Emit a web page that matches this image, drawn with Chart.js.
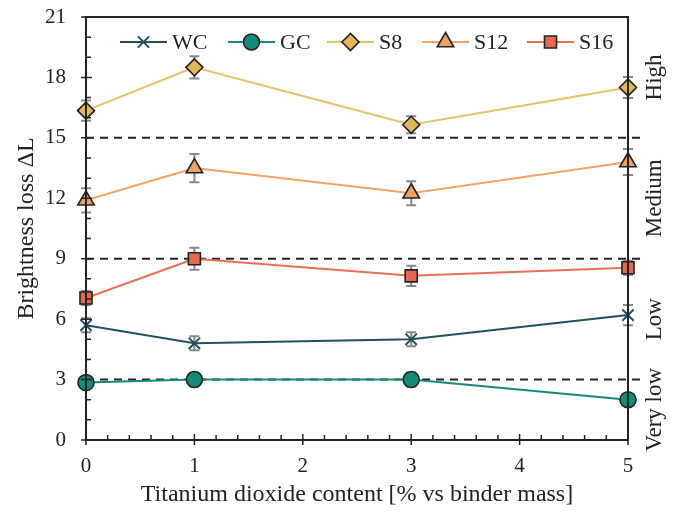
<!DOCTYPE html>
<html lang="en">
<head>
<meta charset="UTF-8">
<title>Brightness loss</title>
<script src="https://cdn.jsdelivr.net/npm/chart.js"></script>
<style>
  html, body { margin: 0; padding: 0; background: #fff; }
  #wrap { width: 678px; height: 513px; }
</style>
</head>
<body>
<div id="wrap"><canvas id="chart" width="678" height="513"></canvas></div>
<script>
// titanium dioxide content (x values)
const tio2 = [0, 1, 3, 5]

const wc = [5.7, 4.8, 5.0, 6.2]
const gc = [2.85, 3.0, 3.0, 2.0]
const s8 = [16.35, 18.5, 15.65, 17.5]
const s12 = [11.9, 13.5, 12.25, 13.8]
const s16 = [7.05, 9.0, 8.15, 8.55]

// standard deviations
const wcErr = [0.35, 0.35, 0.35, 0.5]
const gcErr = [0.3, 0.35, 0.35, 0.05]
const s8Err = [0.5, 0.55, 0.42, 0.52]
const s12Err = [0.6, 0.7, 0.6, 0.65]
const s16Err = [0.35, 0.55, 0.5, 0.35]

const thresholds = [3, 9, 15]
const classes = [
  { label: "High", at: 18 },
  { label: "Medium", at: 12 },
  { label: "Low", at: 6 },
  { label: "Very low", at: 1.5 },
]

const FONT = "'Liberation Serif', 'DejaVu Serif', serif"

function series(label, values, errs, color, lineColor, style, radius) {
  return {
    label,
    data: values.map((v, i) => ({ x: tio2[i], y: v })),
    errs,
    borderColor: lineColor,
    backgroundColor: color,
    borderWidth: 2,
    pointStyle: style,
    pointRadius: radius,
    pointHoverRadius: radius,
    pointBackgroundColor: color,
    pointBorderColor: style === "crossRot" ? color : "#222",
    pointBorderWidth: style === "crossRot" ? 2 : 1.6,
    tension: 0,
    clip: false,
  }
}

const datasets = [
  series("WC", wc, wcErr, "#22505f", "#22505f", "crossRot", 8),
  series("GC", gc, gcErr, "#15897b", "#15897b", "circle", 8),
  series("S8", s8, s8Err, "#e2b85a", "#e8c268", "rectRot", 8.5),
  series("S12", s12, s12Err, "#f0a060", "#f2a468", "triangle", 9.5),
  series("S16", s16, s16Err, "#e4694e", "#e87058", "rect", 8.5),
]

const decor = {
  id: "decor",
  beforeDatasetsDraw(chart) {
    const { ctx, chartArea: a, scales } = chart
    const xs = scales.x, ys = scales.y
    ctx.save()
    // class threshold lines
    ctx.strokeStyle = "#222"
    ctx.lineWidth = 2
    ctx.setLineDash([8, 6])
    thresholds.forEach((t) => {
      const y = ys.getPixelForValue(t)
      ctx.beginPath()
      ctx.moveTo(a.left, y)
      ctx.lineTo(a.right + 16, y)
      ctx.stroke()
    })
    ctx.setLineDash([])
    // error bars
    ctx.strokeStyle = "#888"
    ctx.lineWidth = 2
    chart.data.datasets.forEach((ds) => {
      ds.data.forEach((p, i) => {
        const x = xs.getPixelForValue(p.x)
        const y1 = ys.getPixelForValue(p.y + ds.errs[i])
        const y2 = ys.getPixelForValue(p.y - ds.errs[i])
        ctx.beginPath()
        ctx.moveTo(x, y1); ctx.lineTo(x, y2)
        ctx.moveTo(x - 5, y1); ctx.lineTo(x + 5, y1)
        ctx.moveTo(x - 5, y2); ctx.lineTo(x + 5, y2)
        ctx.stroke()
      })
    })
    ctx.restore()
  },
  afterDraw(chart) {
    const { ctx, chartArea: a, scales } = chart
    const xs = scales.x, ys = scales.y
    ctx.save()
    // frame
    ctx.strokeStyle = "#222"
    ctx.lineWidth = 2
    ctx.strokeRect(a.left, a.top, a.right - a.left, a.bottom - a.top)
    // ticks
    ctx.lineWidth = 1.5
    ctx.beginPath()
    for (let v = 0; v <= 5.001; v += 0.2) {
      const x = xs.getPixelForValue(v)
      const major = Math.abs(v - Math.round(v)) < 1e-6
      ctx.moveTo(x, a.bottom + (major ? 5 : 0))
      ctx.lineTo(x, a.bottom - (major ? 6 : 5))
    }
    for (let v = 0; v <= 21; v += 1) {
      const y = ys.getPixelForValue(v)
      const major = v % 3 === 0
      ctx.moveTo(a.left - (major ? 5 : 0), y)
      ctx.lineTo(a.left + (major ? 6 : 5), y)
    }
    ctx.stroke()
    // class labels on the right
    ctx.fillStyle = "#222"
    ctx.font = "23px " + FONT
    ctx.textAlign = "center"
    ctx.textBaseline = "middle"
    classes.forEach((c) => {
      ctx.save()
      ctx.translate(a.right + 27, ys.getPixelForValue(c.at))
      ctx.rotate(-Math.PI / 2)
      ctx.fillText(c.label, 0, 0)
      ctx.restore()
    })
    // legend
    const lx = [120, 228, 327, 422, 527]
    const ly = 42
    ctx.font = "22px " + FONT
    ctx.textAlign = "left"
    chart.data.datasets.forEach((ds, i) => {
      ctx.strokeStyle = ds.borderColor
      ctx.lineWidth = 2
      ctx.beginPath()
      ctx.moveTo(lx[i], ly)
      ctx.lineTo(lx[i] + 47, ly)
      ctx.stroke()
      ctx.fillStyle = ds.pointBackgroundColor
      ctx.strokeStyle = ds.pointBorderColor
      ctx.lineWidth = ds.pointBorderWidth
      Chart.helpers.drawPoint(ctx, {
        pointStyle: ds.pointStyle, radius: ds.pointRadius, rotation: 0, borderWidth: ds.pointBorderWidth,
      }, lx[i] + 23.5, ly)
      ctx.fillStyle = "#222"
      ctx.fillText(ds.label, lx[i] + 52, ly + 1)
    })
    ctx.restore()
  },
}

new Chart(document.getElementById("chart"), {
  type: "line",
  data: { datasets },
  options: {
    responsive: false,
    animation: false,
    layout: { padding: { top: 17, right: 50, left: 0, bottom: 0 } },
    plugins: { legend: { display: false }, tooltip: { enabled: false } },
    scales: {
      x: {
        type: "linear",
        min: 0,
        max: 5,
        grid: { display: false, drawTicks: false },
        border: { display: false },
        ticks: { stepSize: 1, padding: 14, color: "#222", font: { family: FONT, size: 21 } },
        title: {
          display: true,
          text: "Titanium dioxide content [% vs binder mass]",
          color: "#222",
          font: { family: FONT, size: 24 },
          padding: { top: 0, bottom: 4 },
        },
        afterFit(s) { s.height = 73; s.paddingLeft = 0; s.paddingRight = 0 },
      },
      y: {
        min: 0,
        max: 21,
        grid: { display: false, drawTicks: false },
        border: { display: false },
        ticks: { stepSize: 3, padding: 20, color: "#222", font: { family: FONT, size: 21 } },
        title: {
          display: true,
          text: "Brightness loss ΔL",
          color: "#222",
          font: { family: FONT, size: 24 },
          padding: { top: 12, bottom: 0 },
        },
        afterFit(s) { s.width = 86; s.paddingTop = 0; s.paddingBottom = 0 },
      },
    },
  },
  plugins: [decor],
})
</script>
</body>
</html>
